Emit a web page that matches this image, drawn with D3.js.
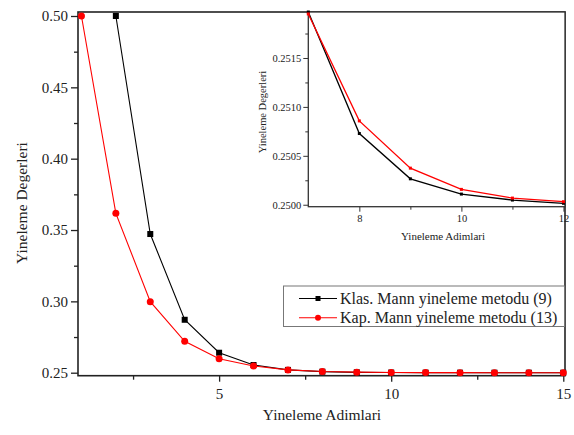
<!DOCTYPE html>
<html>
<head>
<meta charset="utf-8">
<script src="https://cdn.jsdelivr.net/npm/d3@7"></script>
<style>
  body { margin: 0; background: #fff; }
  svg text { font-family: "Liberation Serif", serif !important; fill: #222; }
</style>
</head>
<body>
<svg id="chart" width="574" height="435" font-family="Liberation Serif"></svg>
<script>
// iteration steps
const steps = [1, 2, 3, 4, 5, 6, 7, 8, 9, 10, 11, 12, 13, 14, 15];
// Klas. Mann (9) - starts at step 2
const klasSteps = [2, 3, 4, 5, 6, 7, 8, 9, 10, 11, 12, 13, 14, 15];
const klasValues = [0.5, 0.3472, 0.2871, 0.2640, 0.2554, 0.25197, 0.250728, 0.250265, 0.250109, 0.250048, 0.250015, 0.250007, 0.250003, 0.250001];
// Kap. Mann (13)
const kapValues = [0.5, 0.3617, 0.2998, 0.2720, 0.2598, 0.2547, 0.25195, 0.250857, 0.250374, 0.250157, 0.250068, 0.250031, 0.250013, 0.250006, 0.250002];

const mainYTicks = [0.25, 0.30, 0.35, 0.40, 0.45, 0.50];
const mainXTicks = [5, 10, 15];
const insetXTicks = [8, 10, 12];
const insetYTicks = [0.2500, 0.2505, 0.2510, 0.2515];

const legendLabels = ["Klas. Mann yineleme metodu (9)", "Kap. Mann yineleme metodu (13)"];
const colors = ["#000000", "#ff0000"];
const serif = "'Liberation Serif', serif";

const svg = d3.select("#chart");

// ---- main chart ----
const x = d3.scaleLinear().domain([0.9, 15.05]).range([78, 565]);
const y = d3.scaleLinear().domain([0.2479, 0.5028]).range([375.7, 12]);

function minorBetween(ticks) {
  let out = [];
  for (let i = 0; i < ticks.length - 1; i++) out.push((ticks[i] + ticks[i + 1]) / 2);
  return out;
}

// x axis
const gx = svg.append("g").attr("transform", `translate(0,${y.range()[0]})`);
gx.call(d3.axisBottom(x).tickValues(mainXTicks).tickSize(6).tickPadding(7).tickFormat(d3.format("d")));
svg.append("g").attr("transform", `translate(0,${y.range()[0]})`)
  .call(d3.axisBottom(x).tickValues([2.5, 7.5, 12.5]).tickSize(4).tickFormat(""));

// y axis
const gy = svg.append("g").attr("transform", `translate(${x.range()[0]},0)`);
gy.call(d3.axisLeft(y).tickValues(mainYTicks).tickSize(7).tickPadding(3).tickFormat(d3.format(".2f")));
svg.append("g").attr("transform", `translate(${x.range()[0]},0)`)
  .call(d3.axisLeft(y).tickValues(minorBetween(mainYTicks)).tickSize(4).tickFormat(""));

svg.selectAll(".domain").remove();
svg.selectAll(".tick line").attr("stroke", "#222").attr("stroke-width", 1.3);
gx.selectAll("text").style("font-size", "15px").style("font-family", serif);
gy.selectAll("text").style("font-size", "15px").style("font-family", serif);

// frame
svg.append("rect")
  .attr("x", x.range()[0]).attr("y", y.range()[1])
  .attr("width", x.range()[1] - x.range()[0])
  .attr("height", y.range()[0] - y.range()[1])
  .attr("fill", "none").attr("stroke", "#222").attr("stroke-width", 1.6);

svg.append("text").text("Yineleme Adimlari")
  .attr("x", 322).attr("y", 420).attr("text-anchor", "middle")
  .style("font-size", "15.5px").style("font-family", serif);
svg.append("text").text("Yineleme Degerleri")
  .attr("transform", "translate(27,203) rotate(-90)")
  .attr("text-anchor", "middle").style("font-size", "15.5px").style("font-family", serif);

const line = d3.line().x(d => x(d[0])).y(d => y(d[1]));
const klasData = klasSteps.map((s, i) => [s, klasValues[i]]);
const kapData = steps.map((s, i) => [s, kapValues[i]]);

svg.append("path").datum(klasData).attr("d", line)
  .attr("fill", "none").attr("stroke", colors[0]).attr("stroke-width", 1.1);
svg.selectAll(".klasPt").data(klasData).join("rect")
  .attr("class", "klasPt")
  .attr("x", d => x(d[0]) - 3).attr("y", d => y(d[1]) - 3)
  .attr("width", 6).attr("height", 6).attr("fill", colors[0]);

svg.append("path").datum(kapData).attr("d", line)
  .attr("fill", "none").attr("stroke", colors[1]).attr("stroke-width", 1.1);
svg.selectAll(".kapPt").data(kapData).join("circle")
  .attr("class", "kapPt")
  .attr("cx", d => x(d[0])).attr("cy", d => y(d[1]))
  .attr("r", 3.5).attr("fill", colors[1]);

// legend
const lg = svg.append("g");
lg.append("rect").attr("x", 283.5).attr("y", 286).attr("width", 281).attr("height", 40.5)
  .attr("fill", "#fff").attr("stroke", "#777").attr("stroke-width", 1);
legendLabels.forEach((lab, i) => {
  const ly = 298.5 + i * 19.3;
  lg.append("line").attr("x1", 299).attr("x2", 337).attr("y1", ly).attr("y2", ly)
    .attr("stroke", colors[i]).attr("stroke-width", 1.1);
  if (i === 0) {
    lg.append("rect").attr("x", 315.5).attr("y", ly - 2.5).attr("width", 5).attr("height", 5).attr("fill", colors[i]);
  } else {
    lg.append("circle").attr("cx", 318).attr("cy", ly).attr("r", 3).attr("fill", colors[i]);
  }
  lg.append("text").text(lab).attr("x", 340).attr("y", ly + 5.5)
    .style("font-size", "16px").style("font-family", serif);
});

// ---- inset ----
const ix = d3.scaleLinear().domain([7, 12.03]).range([308.3, 565]);
const iy = d3.scaleLinear().domain([0.24998, 0.25197]).range([206.7, 12]);

const inset = svg.append("g");
inset.append("rect")
  .attr("x", ix.range()[0]).attr("y", iy.range()[1])
  .attr("width", ix.range()[1] - ix.range()[0])
  .attr("height", iy.range()[0] - iy.range()[1])
  .attr("fill", "#fff");

const igx = inset.append("g").attr("transform", `translate(0,${iy.range()[0]})`);
igx.call(d3.axisBottom(ix).tickValues(insetXTicks).tickSize(5).tickPadding(3).tickFormat(d3.format("d")));
inset.append("g").attr("transform", `translate(0,${iy.range()[0]})`)
  .call(d3.axisBottom(ix).tickValues([9, 11]).tickSize(3).tickFormat(""));
const igy = inset.append("g").attr("transform", `translate(${ix.range()[0]},0)`);
igy.call(d3.axisLeft(iy).tickValues(insetYTicks).tickSize(5).tickPadding(2).tickFormat(d3.format(".4f")));
inset.append("g").attr("transform", `translate(${ix.range()[0]},0)`)
  .call(d3.axisLeft(iy).tickValues([0.25025, 0.25075, 0.25125, 0.25175]).tickSize(3).tickFormat(""));

inset.selectAll(".domain").remove();
inset.selectAll(".tick line").attr("stroke", "#333").attr("stroke-width", 1);
igx.selectAll("text").style("font-size", "10.5px").style("font-family", serif);
igy.selectAll("text").style("font-size", "10.5px").style("font-family", serif);

inset.append("rect")
  .attr("x", ix.range()[0]).attr("y", iy.range()[1])
  .attr("width", ix.range()[1] - ix.range()[0])
  .attr("height", iy.range()[0] - iy.range()[1])
  .attr("fill", "none").attr("stroke", "#333").attr("stroke-width", 1.3);

inset.append("text").text("Yineleme Adimlari")
  .attr("x", 443).attr("y", 240).attr("text-anchor", "middle")
  .style("font-size", "11px").style("font-family", serif);
inset.append("text").text("Yineleme Degerleri")
  .attr("transform", "translate(266,112) rotate(-90)")
  .attr("text-anchor", "middle").style("font-size", "10.5px").style("font-family", serif);

const iline = d3.line().x(d => ix(d[0])).y(d => iy(d[1]));
const klasIn = klasData.filter(d => d[0] >= 7 && d[0] <= 12);
const kapIn = kapData.filter(d => d[0] >= 7 && d[0] <= 12);

inset.append("path").datum(klasIn).attr("d", iline)
  .attr("fill", "none").attr("stroke", colors[0]).attr("stroke-width", 1.3);
inset.selectAll(".kIn").data(klasIn).join("rect")
  .attr("class", "kIn")
  .attr("x", d => ix(d[0]) - 1.5).attr("y", d => iy(d[1]) - 1.5)
  .attr("width", 3).attr("height", 3).attr("fill", colors[0]);

inset.append("path").datum(kapIn).attr("d", iline)
  .attr("fill", "none").attr("stroke", colors[1]).attr("stroke-width", 1.3);
inset.selectAll(".pIn").data(kapIn).join("rect")
  .attr("class", "pIn")
  .attr("x", d => ix(d[0]) - 1.5).attr("y", d => iy(d[1]) - 1.5)
  .attr("width", 3).attr("height", 3).attr("fill", colors[1]);
</script>
</body>
</html>
